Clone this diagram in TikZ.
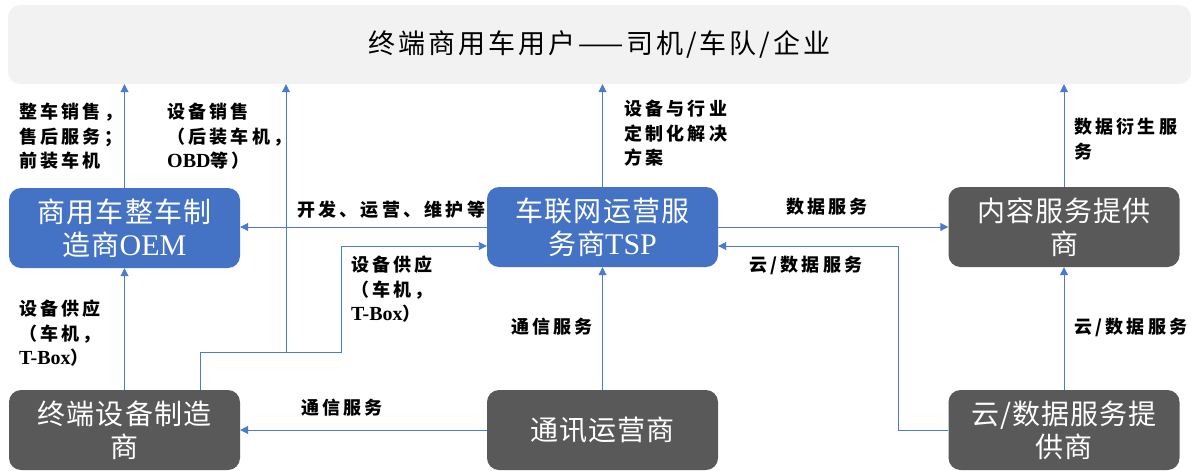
\documentclass[tikz,border=0pt]{standalone}
\usepackage{fontspec}
\setmainfont{Liberation Serif}
\newfontfamily\cjk{Noto Sans CJK SC}
\newfontfamily\cjkbox[LetterSpace=4]{Noto Sans CJK SC}
\newfontfamily\cjktitle[LetterSpace=11]{Noto Sans CJK SC}
\newfontfamily\cjklab[LetterSpace=18]{Noto Sans CJK SC}
\usetikzlibrary{arrows.meta,calc}
\definecolor{boxblue}{HTML}{4472C4}
\definecolor{boxgray}{HTML}{595959}
\definecolor{bannergray}{HTML}{F2F2F2}
\definecolor{linkblue}{HTML}{4A7BCF}
\tikzset{
  x=1pt,y=-1pt,
  box/.style={rounded corners=12pt,minimum width=231pt,minimum height=80pt,inner sep=0pt,
    align=center,text=white,font=\fontsize{28}{33}\selectfont\cjkbox},
  bluebox/.style={box,fill=boxblue},
  graybox/.style={box,fill=boxgray},
  link/.style={draw=linkblue,line width=0.9pt,-{Triangle[length=8pt,width=8pt]}},
  lab/.style={inner sep=0pt,align=left,font=\fontsize{18}{24.5}\selectfont\bfseries\cjklab},
}
\newcommand{\lt}[1]{{\fontsize{20}{24.5}\selectfont\bfseries\rmfamily #1}}
\newcommand{\bt}[1]{{\fontsize{30}{33}\selectfont\rmfamily #1}}
\begin{document}
\begin{tikzpicture}
\useasboundingbox (0,0) rectangle (1191,471);
\node[fill=bannergray,rounded corners=12pt,minimum width=1183pt,minimum height=79pt,inner sep=0pt,
  font=\fontsize{27}{30}\selectfont\cjktitle] (banner) at (599.5,44.5) {终端商用车用户——司机/车队/企业};
\node[bluebox] (oem) at (124.5,228) {商用车整车制\\造商\bt{OEM}};
\node[bluebox] (tsp) at (602.5,227) {车联网运营服\\务商\bt{TSP}};
\node[graybox] (content) at (1064,227) {内容服务提供\\商};
\node[graybox] (dev) at (124.5,430) {终端设备制造\\商};
\node[graybox] (tel) at (602.5,430) {通讯运营商};
\node[graybox] (cloud) at (1064,430) {云/数据服务提\\供商};
% junctions
\coordinate (j0) at (200,352);
\coordinate (j1) at (286,352);
\coordinate (k) at (341,246);
\coordinate (m) at (898,246);
% connectors
\draw[link] (oem.north) -- (oem.north |- banner.south);
\draw[link] (j1) -- (j1 |- banner.south);
\draw[link] (dev.north -| j0) -- (j0) -| (k) -- (k -| tsp.west);
\draw[link] (dev.north) -- (oem.south);
\draw[link] (tsp.west) -- (tsp.west -| oem.east);
\draw[link] (tsp.north) -- (tsp.north |- banner.south);
\draw[link] (tsp.east) -- (content.west);
\draw[link] (cloud.west) -| (m) -- (m -| tsp.east);
\draw[link] (tel.north) -- (tsp.south);
\draw[link] (tel.west) -- (dev.east);
\draw[link] (cloud.north) -- (content.south);
\draw[link] (content.north) -- (content.north |- banner.south);
% labels
\node[lab,anchor=north west] (l1) at (19,103) {整车销售，\\售后服务；\\前装车机};
\node[lab,anchor=north west] (l2) at (167,103) {设备销售\\（后装车机，\\\lt{OBD}等）};
\node[lab,anchor=north west] (l3) at (624,100) {设备与行业\\定制化解决\\方案};
\node[lab,anchor=north west] (l4) at (1074,118) {数据衍生服\\务};
\node[lab,anchor=west] (l5) at (297,210) {开发、运营、维护等};
\node[lab,anchor=west] (l6) at (786,207) {数据服务};
\node[lab,anchor=west] (l7) at (749,265) {云/数据服务};
\node[lab,anchor=north west] (l8) at (351,256) {设备供应\\（车机，\\\lt{T-Box}）};
\node[lab,anchor=north west] (l9) at (19,300) {设备供应\\（车机，\\\lt{T-Box}）};
\node[lab,anchor=west] (l10) at (511,327) {通信服务};
\node[lab,anchor=west] (l11) at (301,408) {通信服务};
\node[lab,anchor=west] (l12) at (1074,327) {云/数据服务};
\end{tikzpicture}
\end{document}
